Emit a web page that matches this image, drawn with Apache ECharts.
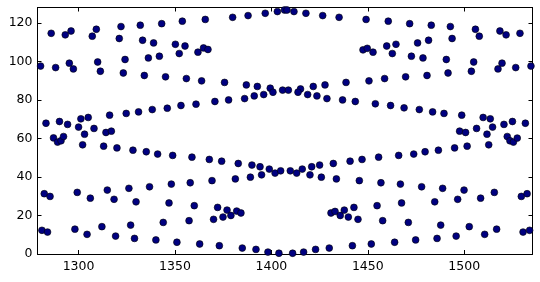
<!DOCTYPE html>
<html>
<head>
<meta charset="utf-8">
<script src="https://cdn.jsdelivr.net/npm/echarts@6/dist/echarts.min.js"></script>
<style>
html,body{margin:0;padding:0;background:#fff;}
#chart{width:540px;height:282px;}
</style>
</head>
<body>
<div id="chart"></div>
<script>
// Band 1: top (y ~106-127)
const topX = [1285.8,1293.1,1296.1,1307.1,1309.2,1321.1,1322,1332,1333.2,1338.9,1343.1,1350.2,1353.8,1355.2,1364.8,1365.7,1367.1,1379.9,1387.9,1396.8,1403.1,1406.8,1408.1,1411.7,1417.9,1426.6,1435.1,1447.5,1449.1,1449.7,1459.8,1460.6,1464.6,1471.7,1475.8,1481.5,1482.9,1492.8,1493.7,1505.8,1507.8,1518.5,1521.7,1528.9];
const topY = [114.6,113.8,115.8,113.1,116.7,111.9,118.1,118.8,111,109.6,119.6,108.9,120.9,108,107,121.8,106.2,122.9,123.8,125,125.9,126.7,126.7,125.9,125,123.8,122.9,106,121.8,106.8,108,120.9,108.9,119.6,109.6,111,118.8,118.1,111.9,116.7,113.1,115.8,113.8,114.6];

// Band 2: (y ~85-105)
const upperX = [1280.3,1288.1,1295.2,1297.3,1309.9,1311.3,1323.2,1324.1,1334.1,1336.2,1341.9,1345.1,1352.2,1355.9,1361.9,1363.8,1375.7,1387,1392.7,1399.4,1405.8,1408.8,1415.1,1421.7,1427.8,1438.7,1450.6,1452.7,1458.7,1462.7,1469.6,1472.6,1478.6,1480.7,1490.7,1491.6,1503.7,1504.9,1517.5,1519.6,1526.7,1534.6];
const upperY = [97.6,96.8,99.1,96.1,99.7,94.9,94,101,92.7,101.8,102.7,92,104.1,91.1,104.8,89.9,89.1,87.8,87,86.1,85.1,85.1,85.7,87,87.8,89.1,89.9,104.8,91.1,104.1,92,102.7,101.8,92.7,101,94,94.9,99.7,96.1,99.1,96.8,97.6];

// Band 3: (y ~42-84)
const middleX = [1283.1,1287,1289.1,1290.1,1290.9,1292.2,1294.3,1300,1301.2,1302.1,1303.1,1305,1308,1313,1314.2,1316.1,1317,1319.9,1324.7,1328.2,1331.1,1335.1,1338.2,1341,1346,1348.8,1353.1,1358.8,1360.9,1367.8,1370.7,1374.2,1377.8,1382.8,1386.1,1389.9,1391.1,1394.1,1396,1398.9,1400.8,1401.9,1404.8,1409.8,1413.1,1413.8,1416,1418.8,1420.9,1423.6,1425,1428.8,1432.1,1436.9,1440.8,1443.5,1447,1453.9,1455.6,1461.8,1466,1468.8,1473.8,1476.7,1479.7,1483.6,1486.6,1489.5,1495,1497.6,1498.7,1500.7,1501.5,1506.4,1509.8,1511.8,1512.7,1513.5,1514.7,1520.6,1522.3,1523.7,1525,1525.5,1527.5,1531.7];
const middleY = [67.9,60.3,58.1,68.8,58.8,61,67.3,65.9,70.2,56.7,62.2,70.9,65.2,56,63.1,72.1,63.8,55.1,73,53.9,73.8,53.1,75,51.9,75.7,51.2,77.1,50.3,77.8,49.1,79.2,48.2,80,47,80.7,46.2,82.1,45.3,82.8,44.1,84,42,43.2,43.2,42,84,44.1,82.8,45.3,82.1,46.2,80.7,47,80,48.2,79.2,49.1,78,50.3,77.1,51.2,75.9,51.9,75,53.1,73.8,53.9,73,55.1,63.8,72.1,63.1,56,65.2,70.9,62.2,56.7,70.2,65.9,67.3,61,58.8,68.8,58.1,60.2,67.9];

// Band 4: (y ~18-41)
const lowerX = [1282.2,1285.2,1299.3,1306.1,1314.9,1318.4,1326.1,1329.8,1336.8,1346.9,1348.1,1357.9,1360,1369.2,1370,1372.1,1374.9,1377,1379,1381.3,1382,1384.2,1389.1,1394.9,1420,1425.9,1430.9,1433,1433.7,1435.7,1437.8,1439.9,1442.8,1444.9,1445.6,1454.8,1456.8,1466.9,1467.5,1477.9,1484.7,1488.8,1496.6,1499.9,1508.5,1515.6,1529.6,1532.6];
const lowerY = [31.3,29.9,32,29,33.2,28.4,34.1,27.1,34.9,26.5,36.3,37,25.1,38.1,18,24.2,19.2,22.8,20,39,22.3,21.3,39.9,41.1,41.1,39.9,21.3,22.1,39,20,22.8,19.2,24.2,18,38.1,25.1,37,36.3,26.5,34.9,27.1,34.1,28.4,33.2,29,32,29.9,31.3];

// Band 5: bottom (y ~0-17)
const bottomX = [1281,1283.9,1298.1,1304.4,1312.1,1319.2,1327,1329,1340.1,1343.9,1351,1357.3,1362.8,1373,1384.9,1392,1398.2,1403.9,1411,1416.7,1422.9,1430,1442,1451.8,1457.7,1463.9,1471,1474.8,1485.9,1487.8,1495.8,1502.6,1510.6,1516.8,1530.5,1533.9];
const bottomY = [12.3,11.4,12.9,10.2,14.2,9.3,15,8.1,7.3,16.4,6.1,17.3,5.2,4.3,3.1,2.4,1.0,0.4,0.4,1.0,2.4,3.1,4.3,5.2,17.3,6.1,16.4,7.3,8.1,15,9.3,14.2,10.2,12.9,11.4,12.3];

const xTicks = [1300, 1350, 1400, 1450, 1500];
const yTicks = [0, 20, 40, 60, 80, 100, 120];

const bands = [[topX, topY], [upperX, upperY], [middleX, middleY], [lowerX, lowerY], [bottomX, bottomY]];
const points = [];
bands.forEach(([xs, ys]) => xs.forEach((x, i) => points.push([x, ys[i]])));

const X_MIN = 1278.7, X_MAX = 1535.4, Y_MIN = 0, Y_MAX = 128;
const font = {fontFamily: 'DejaVu Sans', fontSize: 12.5, color: '#000'};
const lineStyle = {color: '#000', width: 1};

const chart = echarts.init(document.getElementById('chart'), null, {renderer: 'canvas'});
chart.setOption({
  animation: false,
  backgroundColor: '#fff',
  grid: {left: 37.5, right: 7.5, top: 7.5, bottom: 28, containLabel: false},
  xAxis: [
    {type: 'value', position: 'bottom', min: X_MIN, max: X_MAX, splitNumber: 5,
     axisLine: {show: true, onZero: false, lineStyle}, axisTick: {show: true, inside: true, length: 4, lineStyle},
     splitLine: {show: false},
     axisLabel: Object.assign({margin: 6, showMinLabel: false, showMaxLabel: false,
       formatter: v => xTicks.includes(v) ? String(v) : ''}, font)},
    {type: 'value', position: 'top', min: X_MIN, max: X_MAX, splitNumber: 5,
     axisLine: {show: true, onZero: false, lineStyle}, axisTick: {show: true, inside: true, length: 4, lineStyle},
     splitLine: {show: false}, axisLabel: {show: false}}
  ],
  yAxis: [
    {type: 'value', position: 'left', min: Y_MIN, max: Y_MAX, interval: 20,
     axisLine: {show: true, onZero: false, lineStyle}, axisTick: {show: true, inside: true, length: 4, lineStyle},
     splitLine: {show: false},
     axisLabel: Object.assign({margin: 5, showMaxLabel: false,
       formatter: v => yTicks.includes(v) ? String(v) : ''}, font)},
    {type: 'value', position: 'right', min: Y_MIN, max: Y_MAX, interval: 20,
     axisLine: {show: true, onZero: false, lineStyle}, axisTick: {show: true, inside: true, length: 4, lineStyle},
     splitLine: {show: false}, axisLabel: {show: false}}
  ],
  series: [{
    type: 'scatter',
    xAxisIndex: 0, yAxisIndex: 0,
    data: points,
    symbol: 'circle',
    symbolSize: 6.8,
    clip: false,
    itemStyle: {color: '#000080', borderColor: '#000', borderWidth: 0.6, opacity: 1}
  }]
});
</script>
</body>
</html>
